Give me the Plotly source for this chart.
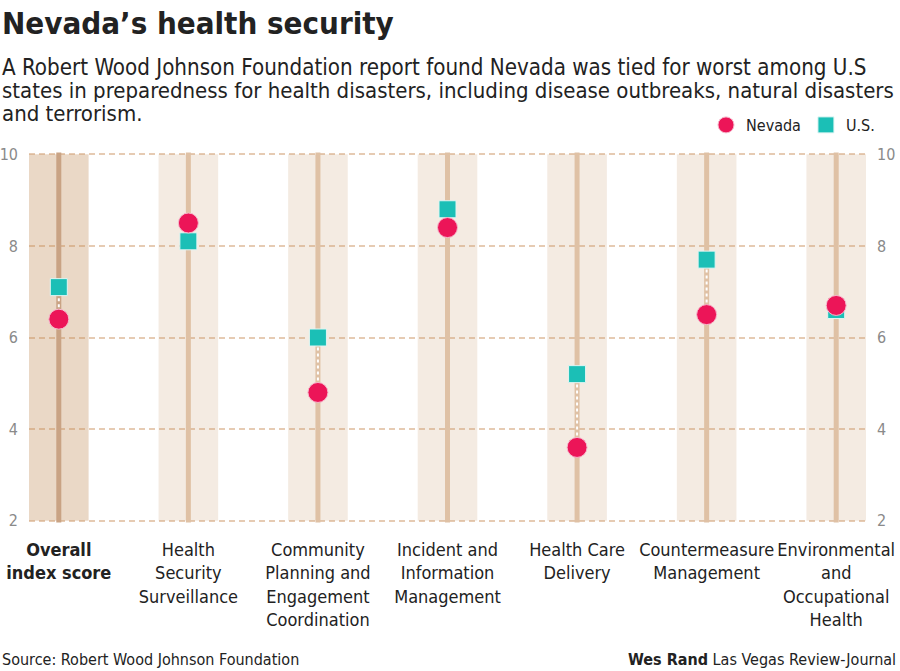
import plotly.graph_objects as go

categories = [
    "<b>Overall<br>index score</b>",
    "Health<br>Security<br>Surveillance",
    "Community<br>Planning and<br>Engagement<br>Coordination",
    "Incident and<br>Information<br>Management",
    "Health Care<br>Delivery",
    "Countermeasure<br>Management",
    "Environmental<br>and<br>Occupational<br>Health",
]
nevada = [6.4, 8.5, 4.8, 8.4, 3.6, 6.5, 6.7]
us = [7.1, 8.1, 6.0, 8.8, 5.2, 7.7, 6.6]
y_ticks = [2, 4, 6, 8, 10]
y_min, y_max = 2, 10

FONT = "DejaVu Sans Condensed, Liberation Sans Narrow, sans-serif"
pos = list(range(len(categories)))

W, H = 900, 671
EPS = 0.05
L, R, T, B = 29, 34, 152, 148
pw, ph = W - L - R, H - T - B

def px(x):
    return (x - L) / pw

def py(y):
    return (H - B - y) / ph

fig = go.Figure()

band_colors = ["rgba(195,144,92,0.35)"] + ["rgba(200,155,110,0.2)"] * (len(pos) - 1)
fig.add_trace(go.Bar(
    x=pos, y=[y_max - y_min] * len(pos), base=[y_min] * len(pos),
    width=0.46, marker=dict(color=band_colors, line=dict(width=0)),
    showlegend=False, hoverinfo="skip"))

line_colors = ["#c9a384"] + ["#dfc1a5"] * (len(pos) - 1)
for i in pos:
    fig.add_trace(go.Scatter(
        x=[i, i], y=[y_min - 0.04, y_max + 0.04], mode="lines",
        line=dict(color=line_colors[i], width=5), showlegend=False, hoverinfo="skip"))

for i in pos:
    fig.add_trace(go.Scatter(
        x=[i, i], y=[nevada[i], us[i]], mode="lines",
        line=dict(color="white", width=2, dash="3px,3px"),
        showlegend=False, hoverinfo="skip"))

fig.add_trace(go.Scatter(
    x=pos, y=us, mode="markers", name="U.S.",
    marker=dict(symbol="square", size=17, color="#1bbfb6",
                line=dict(color="#dff5f3", width=1))))
fig.add_trace(go.Scatter(
    x=pos, y=nevada, mode="markers", name="Nevada",
    marker=dict(symbol="circle", size=20, color="#ec1558",
                line=dict(color="#f6b9cc", width=1))))

fig.add_trace(go.Scatter(x=[0], y=[y_min], yaxis="y2", mode="markers",
                         marker=dict(opacity=0), showlegend=False, hoverinfo="skip"))

fig.update_layout(
    width=W, height=H,
    margin=dict(l=L, r=R, t=T, b=B, pad=0, autoexpand=False),
    paper_bgcolor="white", plot_bgcolor="white",
    font=dict(family=FONT, color="#222"),
    barmode="overlay",
    xaxis=dict(range=[-0.23, len(pos) - 1 + 0.23], tickvals=pos, ticktext=categories,
               showgrid=False, zeroline=False, showline=False, ticks="", tickangle=0,
               automargin=False,
               tickfont=dict(size=18, color="#222"), ticklabelstandoff=14),
    yaxis=dict(range=[y_min - EPS, y_max + EPS], tickvals=y_ticks, showgrid=True,
               gridcolor="#e6cbb3", griddash="6px,4px", gridwidth=1.5,
               zeroline=False, showline=False, ticks="", automargin=False,
               tickfont=dict(size=16, color="#8a8a8a"), ticklabelstandoff=10),
    yaxis2=dict(range=[y_min - EPS, y_max + EPS], tickvals=y_ticks, overlaying="y", side="right",
                showgrid=False, zeroline=False, showline=False, ticks="", automargin=False,
                tickfont=dict(size=16, color="#8a8a8a"), ticklabelstandoff=10),
    legend=dict(orientation="h", x=px(880), xanchor="right", y=py(125), yanchor="middle",
                font=dict(size=16, color="#222"), traceorder="reversed",
                bgcolor="rgba(0,0,0,0)", itemwidth=30),
    showlegend=True,
)

annos = [
    dict(text="<b>Nevada’s health security</b>", x=px(0), y=py(23), size=31),
    dict(text="A Robert Wood Johnson Foundation report found Nevada was tied for worst among U.S",
         x=px(0), y=py(67), size=22.2),
    dict(text="states in preparedness for health disasters, including disease outbreaks, natural disasters",
         x=px(0), y=py(90), size=22),
    dict(text="and terrorism.", x=px(0), y=py(113), size=22),
    dict(text="Source: Robert Wood Johnson Foundation", x=px(0), y=py(659), size=16),
]
for a in annos:
    fig.add_annotation(text=a["text"], xref="paper", yref="paper", x=a["x"], y=a["y"],
                       xanchor="left", yanchor="middle", showarrow=False,
                       font=dict(size=a["size"], color="#222", family=FONT))
fig.add_annotation(text="<b>Wes Rand</b> Las Vegas Review-Journal", xref="paper", yref="paper",
                   x=px(898), y=py(659), xanchor="right", yanchor="middle", showarrow=False,
                   font=dict(size=16, color="#222", family=FONT))

fig.write_html("out.html", config={"displayModeBar": False},
               post_script="document.body.style.margin='0';document.body.style.overflow='hidden';")
